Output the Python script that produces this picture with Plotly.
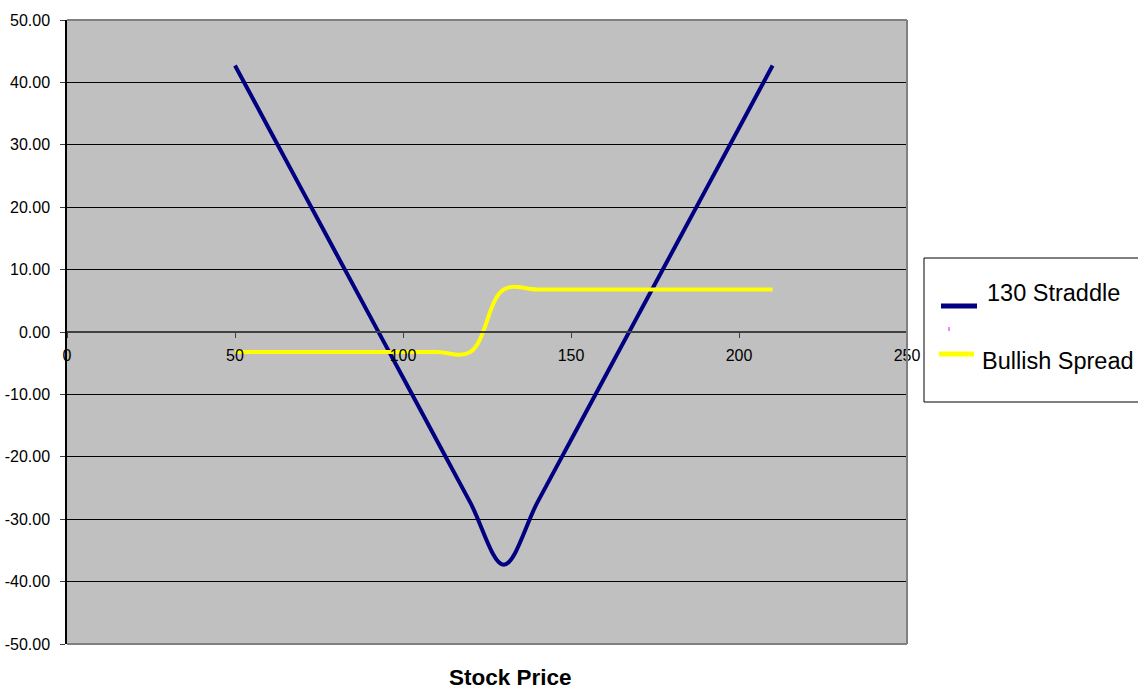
import plotly.graph_objects as go

# Stock price grid and the two option positions' profit/loss at expiry
stock_price = [50, 60, 70, 80, 90, 100, 110, 120, 130, 140, 150, 160, 170, 180, 190, 200, 210]
straddle_130 = [42.7, 32.7, 22.7, 12.7, 2.7, -7.3, -17.3, -27.3, -37.3,
                -27.3, -17.3, -7.3, 2.7, 12.7, 22.7, 32.7, 42.7]
bullish_spread = [-3.2, -3.2, -3.2, -3.2, -3.2, -3.2, -3.2, -3.2, 6.8,
                  6.8, 6.8, 6.8, 6.8, 6.8, 6.8, 6.8, 6.8]

x_ticks = [0, 50, 100, 150, 200, 250]
y_ticks = [-50, -40, -30, -20, -10, 0, 10, 20, 30, 40, 50]
y_tick_text = [f"{v:.2f}" for v in y_ticks]

W, H = 1138, 690
L, R, T, B = 67, 231, 20, 46
PW, PH = W - L - R, H - T - B
FONT = "Liberation Sans, Arial, sans-serif"


def px(x):
    return (x - L) / PW


def py(y):
    return (H - B - y) / PH


fig = go.Figure()
fig.add_trace(go.Scatter(
    x=stock_price, y=straddle_130, name="130 Straddle", mode="lines",
    line=dict(color="#000080", width=4, shape="spline", smoothing=1),
    showlegend=False,
))
fig.add_trace(go.Scatter(
    x=stock_price, y=bullish_spread, name="Bullish Spread", mode="lines",
    line=dict(color="#FFFF00", width=4, shape="spline", smoothing=1.1),
    showlegend=False,
))

shapes = [
    # plot frame: top, right, bottom in grey
    dict(type="line", xref="paper", yref="paper", x0=0, x1=1, y0=1, y1=1,
         line=dict(color="#808080", width=2), layer="above"),
    dict(type="line", xref="paper", yref="paper", x0=1, x1=1, y0=0, y1=1,
         line=dict(color="#808080", width=2), layer="above"),
    dict(type="line", xref="paper", yref="paper", x0=0, x1=1, y0=0, y1=0,
         line=dict(color="#808080", width=2), layer="above"),
    # legend box
    dict(type="rect", xref="paper", yref="paper",
         x0=px(924), x1=px(1142), y0=py(402), y1=py(258),
         line=dict(color="#000000", width=1), fillcolor="white"),
    dict(type="line", xref="paper", yref="paper",
         x0=px(941), x1=px(977), y0=py(306), y1=py(306),
         line=dict(color="#000080", width=5)),
    dict(type="rect", xref="paper", yref="paper",
         x0=px(948), x1=px(950), y0=py(331), y1=py(327),
         line=dict(width=0), fillcolor="#FF80FF"),
    dict(type="line", xref="paper", yref="paper",
         x0=px(939), x1=px(974), y0=py(354), y1=py(354),
         line=dict(color="#FFFF00", width=5)),
]

annotations = [
    dict(text="130 Straddle", xref="paper", yref="paper", x=px(985), y=py(293),
         xanchor="left", yanchor="middle", showarrow=False,
         font=dict(family=FONT, size=23.5, color="black")),
    dict(text="Bullish Spread", xref="paper", yref="paper", x=px(980), y=py(361),
         xanchor="left", yanchor="middle", showarrow=False,
         font=dict(family=FONT, size=23.5, color="black")),
    dict(text="<b>Stock Price</b>", xref="paper", yref="paper", x=px(510), y=py(692),
         xanchor="center", yanchor="bottom", showarrow=False,
         font=dict(family=FONT, size=22.5, color="black")),
]

fig.update_layout(
    width=W, height=H,
    margin=dict(l=L, r=R, t=T, b=B, pad=0, autoexpand=False),
    paper_bgcolor="white", plot_bgcolor="#C0C0C0",
    font=dict(family=FONT, size=16, color="black"),
    shapes=shapes, annotations=annotations,
    xaxis=dict(
        range=[0, 250], tickvals=x_ticks, ticktext=[str(v) for v in x_ticks],
        anchor="free", position=0.5, showgrid=False, zeroline=False,
        showline=True, linecolor="#404040", linewidth=1.5,
        ticks="outside", ticklen=5, tickcolor="#404040", tickwidth=1,
        tickfont=dict(size=16, color="black"), ticklabelstandoff=4,
        automargin=False,
    ),
    yaxis=dict(
        range=[-50, 50], tickvals=y_ticks, ticktext=y_tick_text,
        showgrid=True, gridcolor="black", gridwidth=1, zeroline=False,
        showline=True, linecolor="black", linewidth=1.5,
        ticks="outside", ticklen=5, tickcolor="#404040", tickwidth=1,
        tickfont=dict(size=16, color="black"), ticklabelstandoff=7,
        automargin=False,
    ),
)

fig.write_html("out.html")
